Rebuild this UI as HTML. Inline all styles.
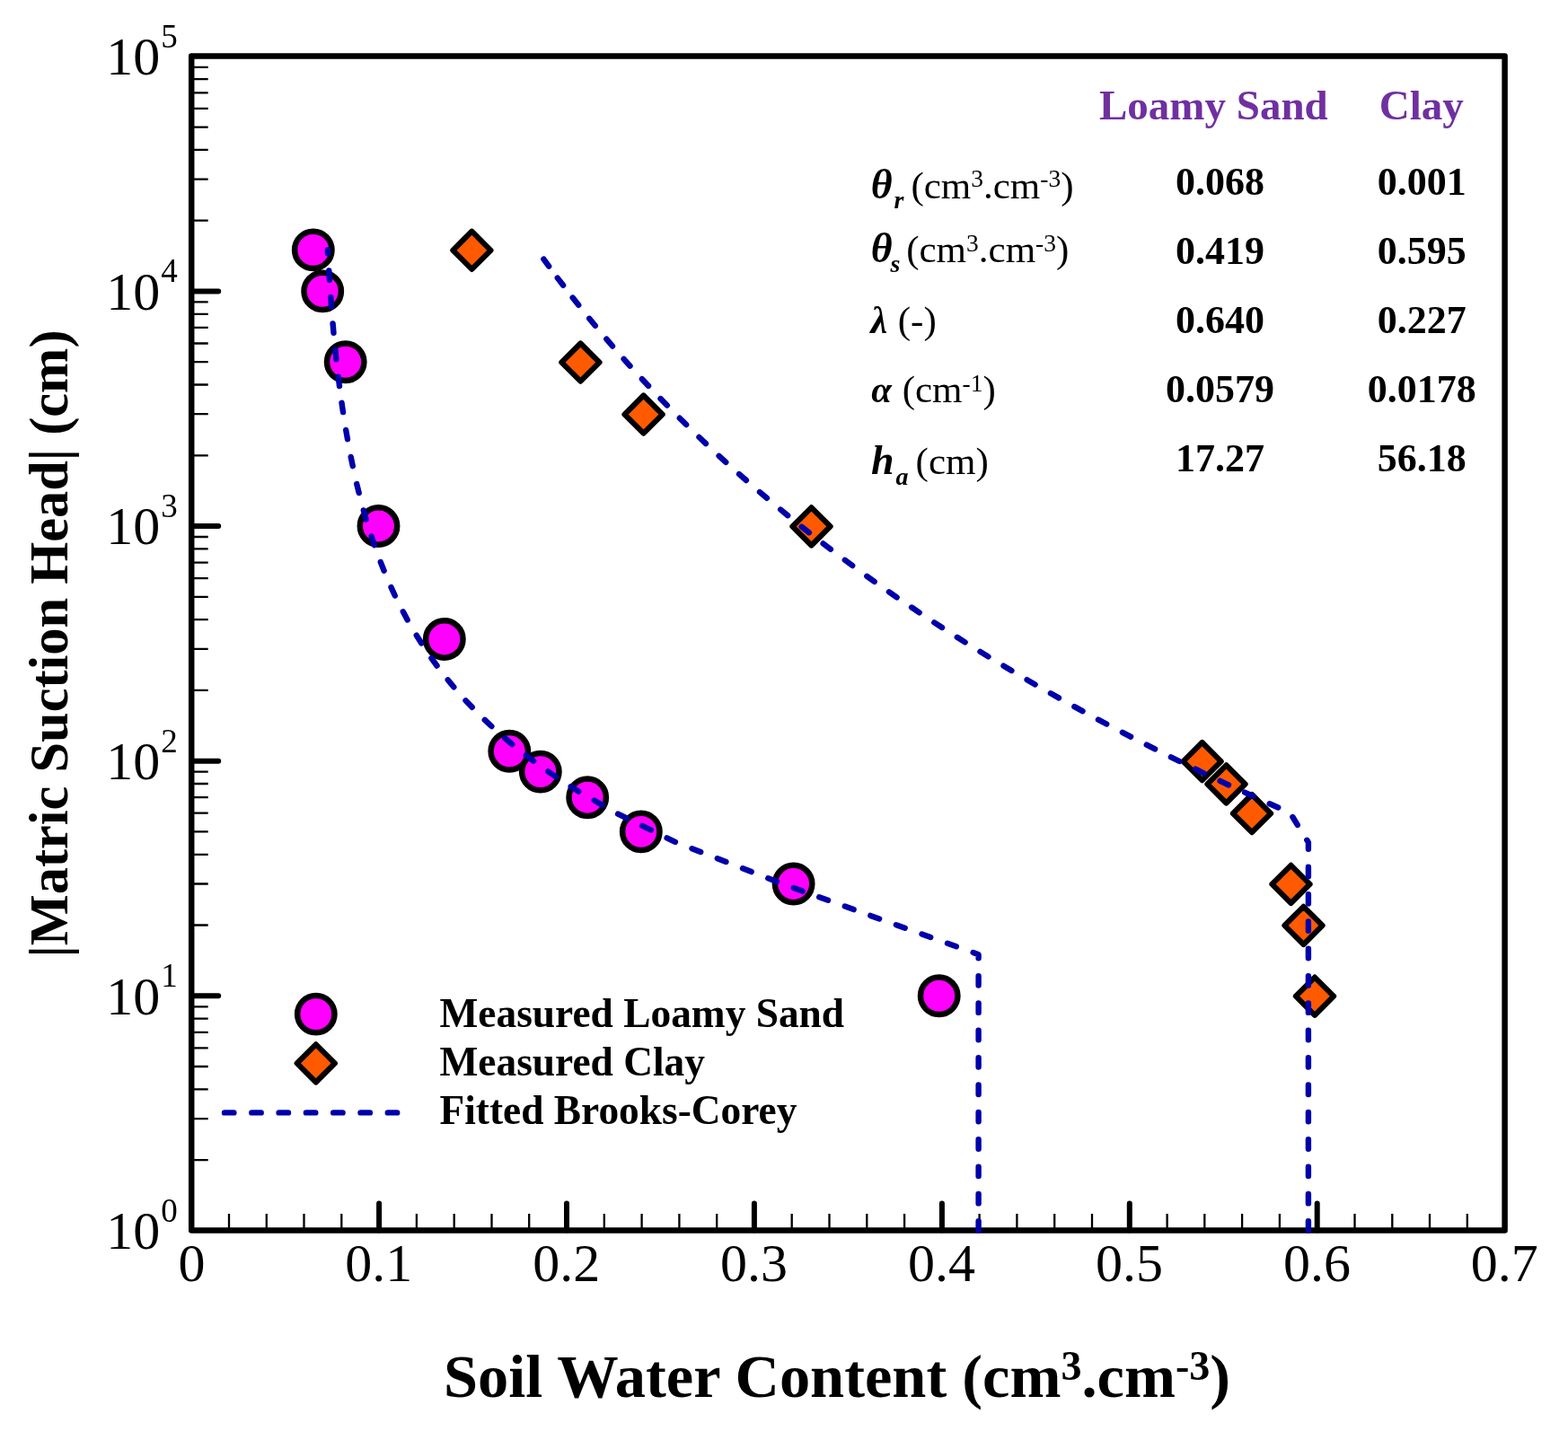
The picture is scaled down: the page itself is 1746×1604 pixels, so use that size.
<!DOCTYPE html>
<html lang="en"><head><meta charset="utf-8"><title>Soil water retention curves</title>
<style>html,body{margin:0;padding:0;background:#fff}svg{display:block}text{font-family:"Liberation Serif",serif;fill:#000}.b{font-weight:bold}.bi{font-weight:bold;font-style:italic}.p{fill:#7030a0}</style></head><body>
<svg width="1746" height="1604" viewBox="0 0 1746 1604">
<rect width="1746" height="1604" fill="#fff"/>
<g stroke="#000" fill="none">
<path stroke-width="2.3" d="M213.2 1292.1H231.7M213.2 1246.1H231.7M213.2 1213.4H231.7M213.2 1188H231.7M213.2 1167.3H231.7M213.2 1149.8H231.7M213.2 1134.6H231.7M213.2 1121.3H231.7M213.2 1030.5H231.7M213.2 984.5H231.7M213.2 951.8H231.7M213.2 926.4H231.7M213.2 905.7H231.7M213.2 888.2H231.7M213.2 873H231.7M213.2 859.6H231.7M213.2 768.9H231.7M213.2 722.8H231.7M213.2 690.1H231.7M213.2 664.8H231.7M213.2 644.1H231.7M213.2 626.6H231.7M213.2 611.4H231.7M213.2 598H231.7M213.2 507.3H231.7M213.2 461.2H231.7M213.2 428.5H231.7M213.2 403.2H231.7M213.2 382.5H231.7M213.2 364.9H231.7M213.2 349.8H231.7M213.2 336.4H231.7M213.2 245.7H231.7M213.2 199.6H231.7M213.2 166.9H231.7M213.2 141.6H231.7M213.2 120.8H231.7M213.2 103.3H231.7M213.2 88.2H231.7M213.2 74.8H231.7M255 1370.6V1352.1M296.8 1370.6V1352.1M338.5 1370.6V1352.1M380.3 1370.6V1352.1M463.9 1370.6V1352.1M505.7 1370.6V1352.1M547.5 1370.6V1352.1M589.2 1370.6V1352.1M672.8 1370.6V1352.1M714.6 1370.6V1352.1M756.4 1370.6V1352.1M798.2 1370.6V1352.1M881.7 1370.6V1352.1M923.5 1370.6V1352.1M965.3 1370.6V1352.1M1007.1 1370.6V1352.1M1090.6 1370.6V1352.1M1132.4 1370.6V1352.1M1174.2 1370.6V1352.1M1216 1370.6V1352.1M1299.6 1370.6V1352.1M1341.3 1370.6V1352.1M1383.1 1370.6V1352.1M1424.9 1370.6V1352.1M1508.5 1370.6V1352.1M1550.3 1370.6V1352.1M1592 1370.6V1352.1M1633.8 1370.6V1352.1"/>
<path stroke-width="6" stroke-linecap="round" d="M213.2 1109.3H243.2M213.2 847.7H243.2M213.2 586H243.2M213.2 324.4H243.2M422.1 1370.6V1340.6M631 1370.6V1340.6M839.9 1370.6V1340.6M1048.9 1370.6V1340.6M1257.8 1370.6V1340.6M1466.7 1370.6V1340.6"/>
<rect x="213.2" y="62.5" width="1462.4" height="1308.1" stroke-width="6.5" stroke-linejoin="round"/>
</g>
<g font-size="60">
<text x="118.2" y="83.1">10<tspan font-size="37" dx="1" dy="-30.5">5</tspan></text>
<text x="118.2" y="344.7">10<tspan font-size="37" dx="1" dy="-30.5">4</tspan></text>
<text x="118.2" y="606.3">10<tspan font-size="37" dx="1" dy="-30.5">3</tspan></text>
<text x="118.2" y="868">10<tspan font-size="37" dx="1" dy="-30.5">2</tspan></text>
<text x="118.2" y="1129.6">10<tspan font-size="37" dx="1" dy="-30.5">1</tspan></text>
<text x="118.2" y="1391.2">10<tspan font-size="37" dx="1" dy="-30.5">0</tspan></text>
<text x="213.6" y="1427.2" text-anchor="middle">0</text>
<text x="421.8" y="1427.2" text-anchor="middle">0.1</text>
<text x="630.7" y="1427.2" text-anchor="middle">0.2</text>
<text x="839.6" y="1427.2" text-anchor="middle">0.3</text>
<text x="1048.6" y="1427.2" text-anchor="middle">0.4</text>
<text x="1257.5" y="1427.2" text-anchor="middle">0.5</text>
<text x="1466.4" y="1427.2" text-anchor="middle">0.6</text>
<text x="1675.3" y="1427.2" text-anchor="middle">0.7</text>
</g>
<text class="b" font-size="68.45" x="494" y="1556.3">Soil Water Content (cm<tspan font-size="46" dy="-19.6">3</tspan><tspan dy="19.6">.cm</tspan><tspan font-size="46" dy="-19.6">-3</tspan><tspan dy="19.6">)</tspan></text>
<text class="b" font-size="60.4" transform="translate(75.3 1066.6) rotate(-90)">|Matric Suction Head| (cm)</text>
<g fill="#ff00ff" stroke="#000" stroke-width="6.5">
<circle cx="359.2" cy="324.4" r="20.7"/>
<circle cx="348.8" cy="278.4" r="20.7"/>
<circle cx="384.7" cy="403.2" r="20.7"/>
<circle cx="421.5" cy="586.0" r="20.7"/>
<circle cx="494.8" cy="712.0" r="20.7"/>
<circle cx="567.3" cy="836.8" r="20.7"/>
<circle cx="601.8" cy="859.6" r="20.7"/>
<circle cx="654.2" cy="888.2" r="20.7"/>
<circle cx="713.8" cy="926.4" r="20.7"/>
<circle cx="883.6" cy="984.5" r="20.7"/>
<circle cx="1045.7" cy="1109.3" r="20.7"/>
<circle cx="351.8" cy="1129.6" r="20.7"/>
</g>
<g fill="#ff5a00" stroke="#000" stroke-width="6.1" stroke-linejoin="round">
<path d="M525.4 257.7l21.1 21.1l-21.1 21.1l-21.1 -21.1z"/>
<path d="M646.4 382.5l21.1 21.1l-21.1 21.1l-21.1 -21.1z"/>
<path d="M716.6 440.5l21.1 21.1l-21.1 21.1l-21.1 -21.1z"/>
<path d="M903.5 565.3l21.1 21.1l-21.1 21.1l-21.1 -21.1z"/>
<path d="M1338.6 827.0l21.1 21.1l-21.1 21.1l-21.1 -21.1z"/>
<path d="M1365.5 852.3l21.1 21.1l-21.1 21.1l-21.1 -21.1z"/>
<path d="M1394.0 885.0l21.1 21.1l-21.1 21.1l-21.1 -21.1z"/>
<path d="M1437.5 963.8l21.1 21.1l-21.1 21.1l-21.1 -21.1z"/>
<path d="M1451.5 1009.8l21.1 21.1l-21.1 21.1l-21.1 -21.1z"/>
<path d="M1464.0 1088.6l21.1 21.1l-21.1 21.1l-21.1 -21.1z"/>
<path d="M351.8 1163.3l21.1 21.1l-21.1 21.1l-21.1 -21.1z"/>
</g>
<path stroke="#0000aa" stroke-width="6.4" stroke-linecap="round" stroke-linejoin="round" fill="none" d="M364.9 278.4L365.1 282.3M366.3 301.5L366.9 311.9M368.3 331.1L369.0 341.5M370.6 360.4L371.5 370.8M373.4 389.7L374.4 400.1M376.7 419.7L378.0 430.1M380.5 448.8L382.0 459.1M385.2 479.0L387.0 489.2M390.7 509.0L392.8 519.2M397.2 539.0L399.7 549.1M404.8 568.4L407.6 578.4M413.6 597.5L416.9 607.3M423.8 626.1L427.6 635.7M435.5 654.1L439.8 663.5M448.8 681.3L453.7 690.5M463.8 707.7L469.3 716.5M480.4 733.1L486.5 741.5M498.7 757.3L505.3 765.3M518.5 780.3L525.7 787.8M539.8 801.9L547.4 809.0M562.3 822.3L570.2 829.0M585.8 841.5L594.1 847.6M610.3 859.4L618.9 865.1M635.6 876.1L644.4 881.6M661.7 891.6L670.7 896.8M688.1 906.6L697.4 911.2M715.3 919.9L724.7 924.5M742.6 933.3L751.9 937.8M770.5 945.2L780.2 949.0M798.8 956.2L808.4 960.0M827.0 967.3L836.7 971.1M855.3 978.3L865.0 982.1M883.7 989.0L893.5 992.6M912.2 999.3L922.0 1002.8M940.8 1009.6L950.6 1013.1M969.3 1019.9L979.1 1023.4M997.9 1030.2L1007.7 1033.7M1026.5 1040.5L1036.2 1044.0M1055.0 1050.8L1064.8 1054.3M1083.6 1061.0L1089.6 1063.2L1089.6 1067.2M1089.6 1087.1L1089.6 1097.5M1089.6 1117.5L1089.6 1127.9M1089.6 1147.8L1089.6 1158.2M1089.6 1178.2L1089.6 1188.6M1089.6 1208.5L1089.6 1219.0M1089.6 1238.9L1089.6 1249.3M1089.6 1269.2L1089.6 1279.7M1089.6 1299.6L1089.6 1310.0M1089.6 1330.0L1089.6 1340.4M1089.6 1360.3L1089.6 1370.6"/>
<path stroke="#0000aa" stroke-width="6.4" stroke-linecap="round" stroke-linejoin="round" fill="none" d="M605.4 288.7L611.2 296.6M620.8 309.6L627.1 317.8M637.7 331.6L644.2 339.8M656.2 354.8L662.8 362.8M675.3 377.6L682.0 385.5M694.6 399.8L701.5 407.6M714.9 422.2L722.0 429.8M735.5 444.1L742.8 451.5M756.8 465.7L764.2 473.0M778.5 487.0L786.0 494.1M800.6 507.8L808.3 514.8M823.1 528.1L830.9 535.0M846.0 548.1L853.9 554.8M869.2 567.6L877.2 574.2M892.7 586.8L900.9 593.2M916.6 605.5L924.9 611.8M940.8 623.8L949.2 630.0M965.3 641.8L973.7 647.8M990.0 659.3L998.6 665.3M1015.1 676.5L1023.7 682.3M1040.3 693.4L1049.0 699.0M1065.8 709.8L1074.6 715.4M1091.5 725.9L1100.4 731.4M1117.5 741.7L1126.4 747.0M1143.6 757.2L1152.6 762.4M1169.9 772.3L1179.0 777.4M1196.4 787.1L1205.5 792.1M1223.0 801.6L1232.2 806.5M1249.9 815.8L1259.1 820.6M1276.8 829.7L1286.1 834.4M1303.9 843.4L1313.3 848.0M1331.2 856.7L1340.5 861.3M1358.6 869.8L1368.0 874.3M1386.1 882.7L1395.5 887.0M1413.7 895.3L1423.2 899.5M1439.4 910.0L1444.8 918.9M1455.3 935.8L1456.9 938.4L1456.9 945.8M1456.9 965.8L1456.9 976.2M1456.9 996.1L1456.9 1006.5M1456.9 1026.4L1456.9 1036.8M1456.9 1056.8L1456.9 1067.2M1456.9 1087.1L1456.9 1097.5M1456.9 1117.5L1456.9 1127.9M1456.9 1147.8L1456.9 1158.2M1456.9 1178.2L1456.9 1188.6M1456.9 1208.5L1456.9 1219.0M1456.9 1238.9L1456.9 1249.3M1456.9 1269.2L1456.9 1279.7M1456.9 1299.6L1456.9 1310.0M1456.9 1330.0L1456.9 1340.4M1456.9 1360.3L1456.9 1370.6"/>
<path stroke="#0000aa" stroke-width="6.4" stroke-linecap="round" stroke-dasharray="10.4 19.9" fill="none" d="M250 1239.4H442.5"/>
<g class="b" font-size="45.4">
<text x="489.5" y="1143.5">Measured Loamy Sand</text>
<text x="489.5" y="1197.5">Measured Clay</text>
<text x="489.5" y="1252.2">Fitted Brooks-Corey</text>
</g>
<g class="b" font-size="47">
<text class="b p" x="1224" y="133">Loamy Sand</text>
<text class="b p" x="1535.8" y="133">Clay</text>
</g>
<g class="b" font-size="44" text-anchor="middle">
<text x="1358.6" y="217.4">0.068</text>
<text x="1583.2" y="217.4">0.001</text>
<text x="1358.6" y="294.3">0.419</text>
<text x="1583.2" y="294.3">0.595</text>
<text x="1358.6" y="371.1">0.640</text>
<text x="1583.2" y="371.1">0.227</text>
<text x="1358.6" y="448.4">0.0579</text>
<text x="1583.2" y="448.4">0.0178</text>
<text x="1358.6" y="525.2">17.27</text>
<text x="1583.2" y="525.2">56.18</text>
</g>
<g font-size="43">
<text y="220.7"><tspan class="bi" font-size="46" x="969.8">θ</tspan><tspan class="bi" font-size="28" x="995.5" y="232.3">r</tspan> <tspan x="1014.4" y="220.7">(cm</tspan><tspan font-size="27.5" dy="-12.6">3</tspan><tspan dy="12.6">.cm</tspan><tspan font-size="27.5" dy="-12.6">-3</tspan><tspan dy="12.6">)</tspan></text>
<text y="292.4"><tspan class="bi" font-size="46" x="969.8">θ</tspan><tspan class="bi" font-size="28" x="991.5" y="302.8">s</tspan> <tspan x="1009.2" y="292.4">(cm</tspan><tspan font-size="27.5" dy="-12.6">3</tspan><tspan dy="12.6">.cm</tspan><tspan font-size="27.5" dy="-12.6">-3</tspan><tspan dy="12.6">)</tspan></text>
<text y="371.2"><tspan class="bi" font-size="42" x="969.6">λ</tspan> <tspan x="999.8" y="371.2">(-)</tspan></text>
<text y="448.4"><tspan class="bi" font-size="41" x="970.3">α</tspan> <tspan x="1004.7" y="448.4">(cm</tspan><tspan font-size="27.5" dy="-12.6">-1</tspan><tspan dy="12.6">)</tspan></text>
<text y="528"><tspan class="bi" font-size="46" x="969.9">h</tspan><tspan class="bi" font-size="28" x="997.5" y="540">a</tspan> <tspan x="1019.6" y="528">(cm)</tspan></text>
</g>
</svg></body></html>
